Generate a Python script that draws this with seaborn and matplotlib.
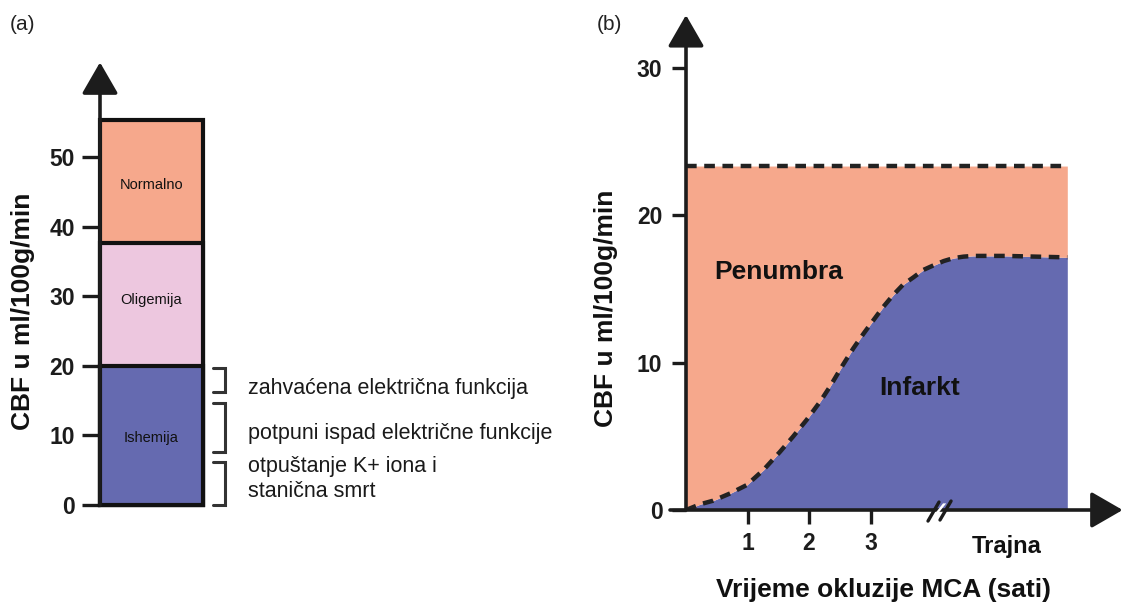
import numpy as np
import pandas as pd
import matplotlib
matplotlib.use("Agg")
import matplotlib.pyplot as plt
import seaborn as sns

# ---------------- data ----------------
zones = ["Normalno", "Oligemija", "Ishemija"]
zone_top = [55.3, 37.6, 20.0]
zone_label_y = [46.0, 29.5, 9.6]
zone_colors = ["#F6A88C", "#EDC7DF", "#656AB0"]
left_ticks = [0, 10, 20, 30, 40, 50]
bracket_lo = [16.2, 7.6, 0.0]
bracket_hi = [19.7, 14.7, 6.2]
bracket_texts = ["zahvaćena električna funkcija",
                 "potpuni ispad električne funkcije",
                 "otpuštanje K+ iona i\nstanična smrt"]
bracket_text_y = [16.8, 10.3, 3.8]

hours = [0, 0.23, 0.44, 0.72, 0.99, 1.26, 1.53, 1.74, 1.96, 2.18, 2.34, 2.55,
         2.72, 2.89, 3.05, 3.21, 3.37, 3.53, 3.70, 3.86, 4.02, 4.19, 4.35,
         4.51, 4.67, 5.2, 6.2]
infarct = [0, 0.39, 0.63, 1.13, 1.70, 2.72, 3.96, 4.98, 6.11, 7.35, 8.37, 9.84,
           10.97, 11.99, 12.9, 13.8, 14.6, 15.3, 15.8, 16.3, 16.6, 16.9, 17.1,
           17.2, 17.25, 17.25, 17.15]
penumbra_level = 23.35
right_ticks = [0, 10, 20, 30]
x_ticks = [1, 2, 3]

SALMON = "#F6A88C"
BLUE = "#656AB0"
DARK = "#1c1c1c"

sns.set_theme(style="white")
plt.rcParams["font.family"] = ["Liberation Sans", "DejaVu Sans"]

W, H = 1126, 605
fig = plt.figure(figsize=(W / 100, H / 100), dpi=100)
fig.patch.set_facecolor("white")


def fx(x):
    return x / W


def fy(y):
    return 1 - y / H


# ---------------- panel (a) ----------------
ax1 = fig.add_axes([fx(100), fy(505), 463 / W, 465 / H])
for name, top, c in zip(zones, zone_top, zone_colors):
    sns.barplot(x=[0], y=[top], color=c, width=1, saturation=1, errorbar=None,
                edgecolor="#111111", linewidth=3, ax=ax1)
for p in ax1.patches:
    p.set_clip_on(False)
ax1.set_xlim(-0.5, 3.995)
ax1.set_ylim(0, 465 / 6.96)
ax1.set_xticks([])
ax1.set_xlabel("")
ax1.set_ylabel("")
for s in ax1.spines.values():
    s.set_visible(False)
ax1.set_yticks(left_ticks)
ax1.tick_params(axis="y", left=True, length=13, width=2.4, pad=5, labelsize=16.5,
                color=DARK, labelcolor=DARK)
for t in ax1.get_yticklabels():
    t.set_fontweight("bold")

ax1.annotate("", xy=(-0.5, 63.6), xytext=(-0.5, 0), annotation_clip=False,
             arrowprops=dict(arrowstyle="-|>,head_length=1.3,head_width=0.75",
                             mutation_scale=15, lw=2.6, color=DARK,
                             shrinkA=0, shrinkB=0))

for name, ly in zip(zones, zone_label_y):
    ax1.text(0, ly, name, ha="center", va="center", fontsize=10.5, color="#111111")

for lo, hi in zip(bracket_lo, bracket_hi):
    ax1.plot([0.597, 0.714, 0.714, 0.597], [hi, hi, lo, lo], color="#333333",
             lw=2.2, clip_on=False, solid_joinstyle="miter")
for txt, ty in zip(bracket_texts, bracket_text_y):
    ax1.text(0.937, ty, txt, ha="left", va="center", fontsize=15.5,
             color="#1a1a1a", linespacing=1.25)

fig.text(fx(10), fy(25), "(a)", fontsize=15, ha="left", va="center", color="#222222")
fig.text(fx(23), fy(311), "CBF u ml/100g/min", rotation=90, fontsize=19,
         fontweight="bold", ha="center", va="center", color="#111111")

# ---------------- panel (b) ----------------
ax2 = fig.add_axes([fx(686), fy(510), 440 / W, 505 / H])
ax2.set_xlim(0, 440 / 61.5)
ax2.set_ylim(0, 505 / 14.73)

ax2.fill_between(hours, 0, infarct, color=BLUE, lw=0, zorder=1)
ax2.fill_between(hours, infarct, penumbra_level, color=SALMON, lw=0, zorder=1)

df = pd.DataFrame({"h": hours, "cbf": infarct})
sns.lineplot(data=df, x="h", y="cbf", ax=ax2, color="#222222", lw=3.2,
             linestyle=(0, (2.4, 1.7)), zorder=3)
sns.lineplot(x=[0, hours[-1]], y=[penumbra_level, penumbra_level], ax=ax2,
             color="#222222", lw=3.2, linestyle=(0, (2.4, 1.7)), zorder=3)
ax2.set_xlabel("")
ax2.set_ylabel("")
for s in ax2.spines.values():
    s.set_visible(False)

ax2.annotate("", xy=(0, 33.6), xytext=(0, 0), annotation_clip=False,
             arrowprops=dict(arrowstyle="-|>,head_length=1.3,head_width=0.75",
                             mutation_scale=15, lw=2.6, color=DARK,
                             shrinkA=0, shrinkB=0))
ax2.annotate("", xy=(7.1, 0), xytext=(-0.26, 0), annotation_clip=False,
             arrowprops=dict(arrowstyle="-|>,head_length=1.3,head_width=0.75",
                             mutation_scale=15, lw=2.6, color=DARK,
                             shrinkA=0, shrinkB=0))

ax2.set_yticks(right_ticks)
ax2.set_xticks(x_ticks)
ax2.tick_params(axis="y", left=True, length=10, width=2.4, pad=7, labelsize=16.5,
                color=DARK, labelcolor=DARK)
ax2.tick_params(axis="x", bottom=True, length=10, width=2.4, pad=6, labelsize=16.5,
                color=DARK, labelcolor=DARK)
for t in ax2.get_yticklabels() + ax2.get_xticklabels():
    t.set_fontweight("bold")

# axis break
ax2.fill([4.0, 4.18, 4.23, 4.05], [-0.5, 0.45, 0.45, -0.5], color="white",
         lw=0, zorder=6, clip_on=False)
ax2.plot([3.935, 4.114], [-0.75, 0.54], color=DARK, lw=2.4, zorder=7, clip_on=False)
ax2.plot([4.13, 4.31], [-0.68, 0.61], color=DARK, lw=2.4, zorder=7, clip_on=False)

ax2.text(1.5, 16.16, "Penumbra", fontsize=19, fontweight="bold", ha="center",
         va="center", color="#111111", zorder=5)
ax2.text(3.8, 8.28, "Infarkt", fontsize=19, fontweight="bold", ha="center",
         va="center", color="#111111", zorder=5)

fig.text(fx(597), fy(25), "(b)", fontsize=15, ha="left", va="center", color="#222222")
fig.text(fx(606), fy(308), "CBF u ml/100g/min", rotation=90, fontsize=19,
         fontweight="bold", ha="center", va="center", color="#111111")
fig.text(fx(1007), fy(546), "Trajna", fontsize=17, fontweight="bold",
         ha="center", va="center", color="#111111")
fig.text(fx(884), fy(590), "Vrijeme okluzije MCA (sati)", fontsize=19,
         fontweight="bold", ha="center", va="center", color="#111111")

fig.savefig("out.png", dpi=100, facecolor="white")
